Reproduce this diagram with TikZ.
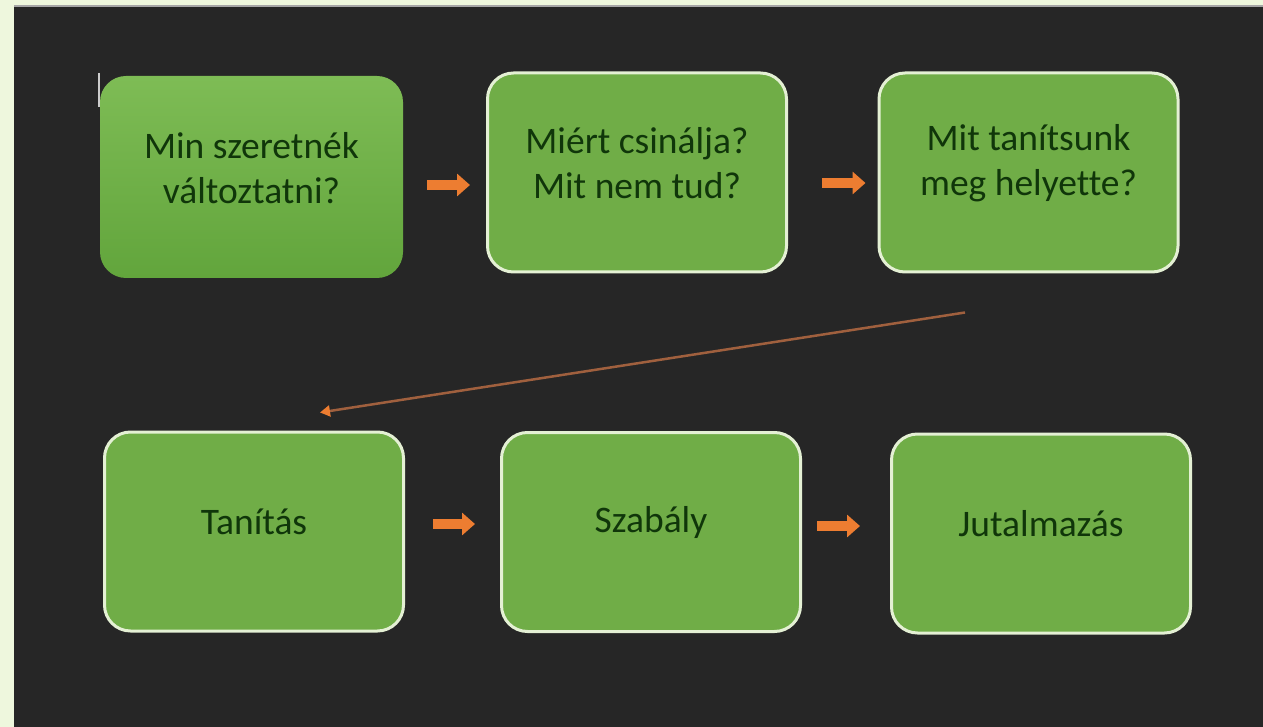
\documentclass[tikz,border=0pt]{standalone}
\usepackage{fontspec}
\setmainfont[Ligatures=NoCommon]{Carlito}
\usetikzlibrary{calc,arrows.meta}
\definecolor{pale}{HTML}{EEF7DD}
\definecolor{darkbg}{HTML}{262626}
\definecolor{boxgreen}{HTML}{70AD47}
\definecolor{boxrim}{HTML}{E4F0D4}
\definecolor{txtgreen}{HTML}{10360A}
\definecolor{arrorange}{HTML}{ED7D31}
\definecolor{longline}{HTML}{A0603E}
\definecolor{gradtop}{HTML}{7EBC55}
\definecolor{gradbot}{HTML}{62A53C}
\tikzset{
  box/.style={rounded corners=26pt, minimum width=299pt, minimum height=199pt,
    inner sep=0pt, fill=boxgreen, draw=boxrim, line width=3pt},
  firstbox/.style={rounded corners=26pt, minimum width=303pt, minimum height=202pt,
    inner sep=0pt, top color=gradtop, bottom color=gradbot, draw=none},
  txt/.style={font=\fontsize{37.5}{45}\selectfont, text=txtgreen, align=center, inner sep=0pt},
  sarrow/.style={draw=arrorange, line width=10pt,
    -{Triangle[length=13pt,width=22pt,color=arrorange]}},
  larrow/.style={draw=longline, line width=2.5pt,
    -{Triangle[length=10pt,width=11pt,color=arrorange]}}
}
\begin{document}
\begin{tikzpicture}[x=1pt,y=-1pt]
\useasboundingbox (0,0) rectangle (1263,727);
\fill[pale] (0,0) rectangle (1263,727);
\fill[darkbg] (14,6) rectangle (1263,727);
\draw[gray!70, line width=1.5pt] (14,6) -- (1263,6);
% boxes
\node[firstbox] (b1) at (251.5,177) {};
\node[box] (b2) at (637,172.5) {};
\node[box] (b3) at (1028.5,172.5) {};
\node[box] (b4) at (254,531.5) {};
\node[box] (b5) at (651,532) {};
\node[box] (b6) at (1041,533.5) {};
% texts
\node[txt] (t1) at ([yshift=9pt]b1.center) {Min szeretnék\\változtatni?};
\node[txt] (t2) at ([yshift=9pt]b2.center) {Miért csinálja?\\Mit nem tud?};
\node[txt] (t3) at ([yshift=9pt]b3.center) {Mit tanítsunk\\meg helyette?};
\node[txt] (t4) at ([yshift=10pt]b4.center) {Tanítás};
\node[txt] (t5) at ([yshift=10pt]b5.center) {Szabály};
\node[txt] (t6) at ([yshift=10pt]b6.center) {Jutalmazás};
% small marker line
\draw[gray!40, line width=1.5pt] ($(b1.north west)+(-1,-3)$) -- ($(b1.north west)+(-1,31)$);
% arrows
\draw[sarrow] ($(b1.east)+(24,8)$) -- ($(b2.west)+(-16,12.5)$);
\draw[sarrow] ($(b2.east)+(34,10.5)$) -- ($(b3.west)+(-12,10.5)$);
\draw[sarrow] ($(b4.east)+(28,-7.5)$) -- ($(b5.west)+(-25,-8)$);
\draw[sarrow] ($(b5.east)+(15,-6)$) -- ($(b6.west)+(-30,-7.5)$);
\draw[larrow] ($(b3.south)+(-63.5,39)$) -- ($(b4.north)+(66,-18)$);
\end{tikzpicture}
\end{document}
